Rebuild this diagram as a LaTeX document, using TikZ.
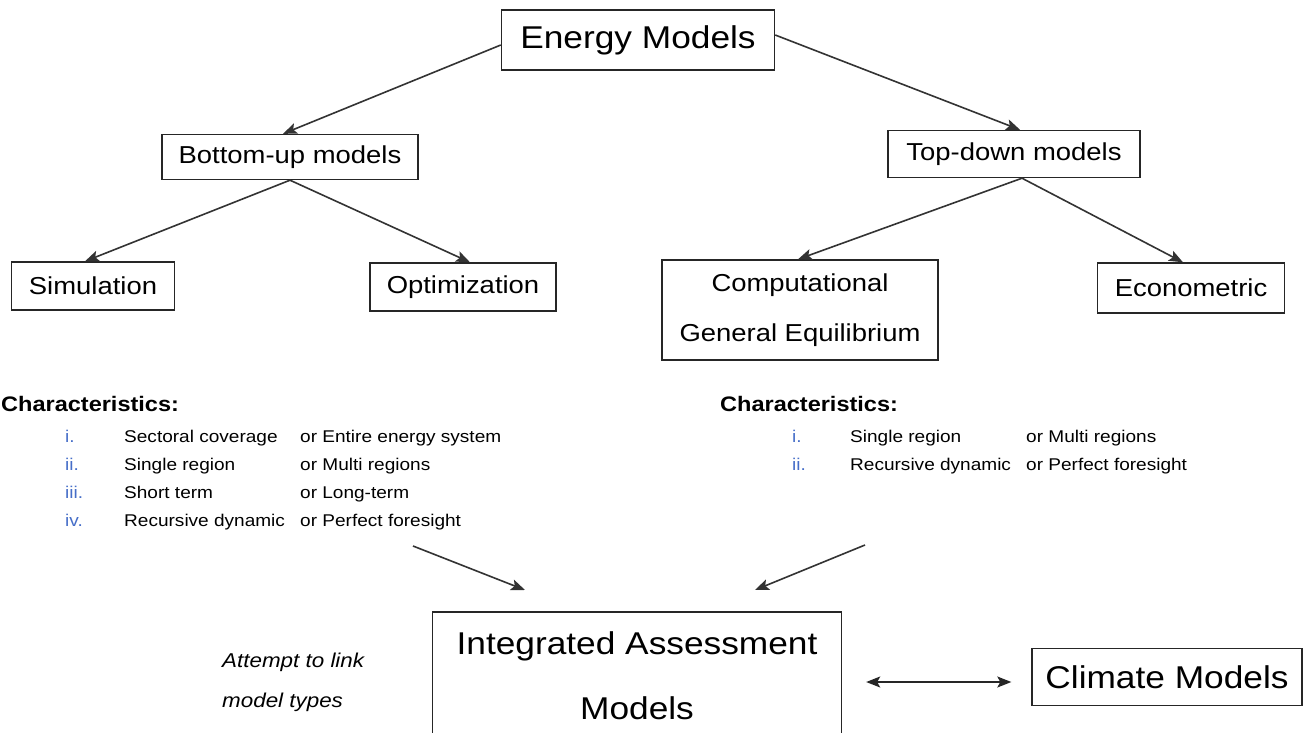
\documentclass[tikz,border=0pt]{standalone}
\usepackage{fontspec}
\setmainfont[FakeStretch=1.12]{Liberation Sans}
\usetikzlibrary{arrows.meta,calc}
\definecolor{numblue}{RGB}{70,110,200}
\tikzset{
  box/.style={draw=black!85, line width=1.4pt, fill=white, inner sep=0pt},
  conn/.style={draw=black!80, line width=1.6pt, -{Stealth[length=14pt,width=11pt,inset=3pt]}},
  big/.style={font=\fontsize{31.5}{36}\selectfont},
  mid/.style={font=\fontsize{24.5}{28}\selectfont},
  small/.style={font=\fontsize{17}{20}\selectfont, anchor=base west, inner sep=0pt},
  num/.style={small, text=numblue},
  head/.style={font=\bfseries\fontsize{21}{24}\selectfont, anchor=base west, inner sep=0pt},
  note/.style={font=\itshape\fontsize{20}{24}\selectfont, anchor=base west, inner sep=0pt}
}
\begin{document}
\begin{tikzpicture}[x=1pt,y=-1pt]
\useasboundingbox (0,0) rectangle (1307,733);
\clip (0,0) rectangle (1307,733);
\fill[white] (0,0) rectangle (1307,733);

% boxes
\node[box, big, minimum width=273pt, minimum height=60pt] (em) at (638,40) {Energy Models};
\node[box, mid, minimum width=256pt, minimum height=45pt] (bu) at (290,157) {Bottom-up models};
\node[box, mid, minimum width=252pt, minimum height=47pt] (td) at (1014,154) {Top-down models};
\node[box, mid, minimum width=163pt, minimum height=48pt] (sim) at (93,286) {Simulation};
\node[box, mid, minimum width=186pt, minimum height=48pt] (opt) at (463,287) {Optimization};
\node[box, font=\fontsize{24.5}{50}\selectfont, align=center, minimum width=276pt, minimum height=100pt] (cge) at (800,310) {Computational\\General Equilibrium};
\node[box, mid, minimum width=187pt, minimum height=50pt] (eco) at (1191,288) {Econometric};
\node[box, font=\fontsize{31.5}{65}\selectfont, align=center, minimum width=409pt, minimum height=128pt] (iam) at (637,676) {Integrated Assessment\\Models};
\node[box, big, minimum width=270pt, minimum height=57pt] (cm) at (1167,677) {Climate Models};

% connectors
\draw[conn] ([yshift=-5pt]em.west) -- ([xshift=-7pt]bu.north);
\draw[conn] ([yshift=5pt]em.east) -- ([xshift=6pt]td.north);
\draw[conn] (bu.south) -- ([xshift=-8pt]sim.north);
\draw[conn] (bu.south) -- ([xshift=7pt]opt.north);
\draw[conn] ([xshift=8pt]td.south) -- ([xshift=-2pt]cge.north);
\draw[conn] ([xshift=8pt]td.south) -- ([xshift=-8pt]eco.north);

% characteristics left
\node[head] (chl) at (1,411) {Characteristics:};
\node[num] (l1n) at (65,442) {i.};
\node[small] (l1a) at (124,442) {Sectoral coverage};
\node[small] (l1b) at (300,442) {or Entire energy system};
\node[num] (l2n) at (65,470) {ii.};
\node[small] (l2a) at (124,470) {Single region};
\node[small] (l2b) at (300,470) {or Multi regions};
\node[num] (l3n) at (65,498) {iii.};
\node[small] (l3a) at (124,498) {Short term};
\node[small] (l3b) at (300,498) {or Long-term};
\node[num] (l4n) at (65,526) {iv.};
\node[small] (l4a) at (124,526) {Recursive dynamic};
\node[small] (l4b) at (300,526) {or Perfect foresight};

% characteristics right
\node[head] (chr) at (720,411) {Characteristics:};
\node[num] (r1n) at (792,442) {i.};
\node[small] (r1a) at (850,442) {Single region};
\node[small] (r1b) at (1026,442) {or Multi regions};
\node[num] (r2n) at (792,470) {ii.};
\node[small] (r2a) at (850,470) {Recursive dynamic};
\node[small] (r2b) at (1026,470) {or Perfect foresight};

% arrows to IAM
\coordinate (la) at (413,546);
\coordinate (ra) at (865,545);
\coordinate (le) at (525,590);
\coordinate (re) at (755,590);
\draw[conn] (la) -- (le);
\draw[conn] (ra) -- (re);

% note
\node[note] (n1) at (222,667) {Attempt to link};
\node[note] (n2) at (222,707) {model types};

% double arrow
\draw[draw=black!85, line width=1.6pt, {Stealth[length=14pt,width=11pt,inset=3pt]}-{Stealth[length=14pt,width=11pt,inset=3pt]}]
  ([xshift=24pt]iam.east |- 0,682) -- ([xshift=-20pt]cm.west |- 0,682);
\end{tikzpicture}
\end{document}
